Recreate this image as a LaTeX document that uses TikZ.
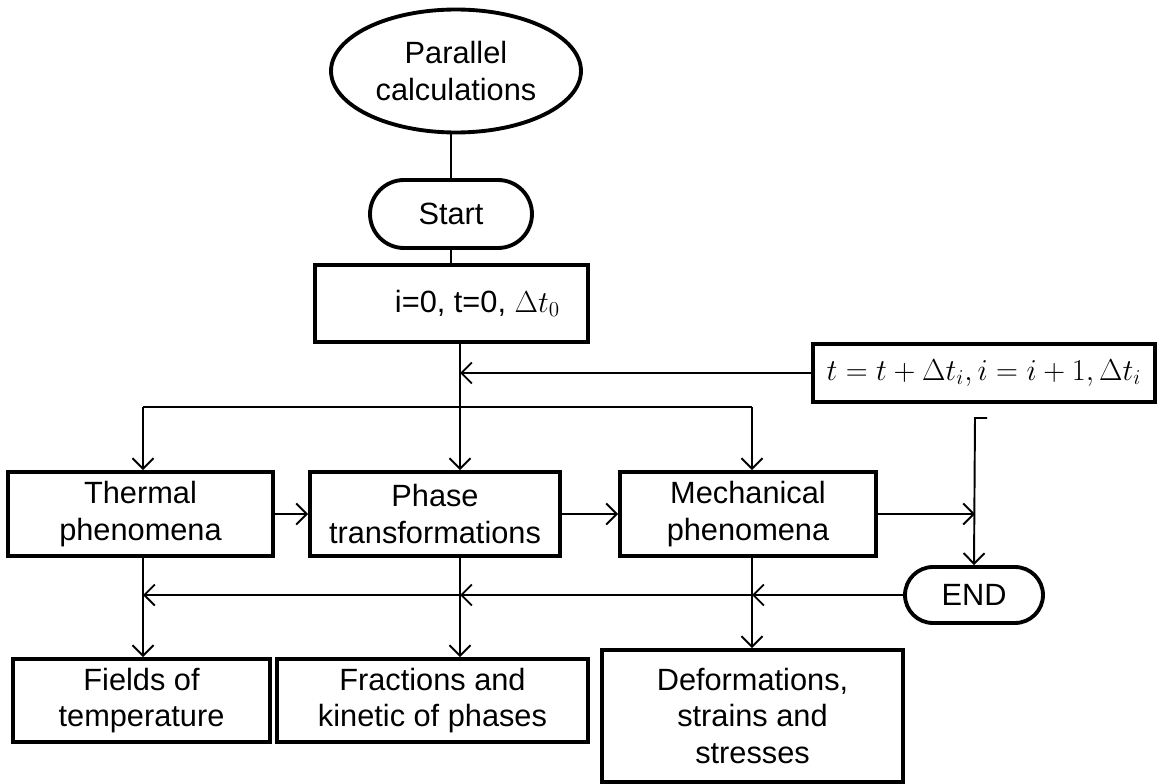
\documentclass[tikz,border=0pt]{standalone}
\usepackage{fontspec}
\setmainfont{Liberation Sans}
\usetikzlibrary{shapes.geometric,shapes.misc,arrows.meta}

\tikzset{
	box/.style={draw, line width=2.2pt, align=center, inner sep=0pt, font=\fontsize{17.5}{21}\selectfont},
	term/.style={box, rounded rectangle},
	flow/.style={line width=1.1pt},
	flowarr/.style={flow, -{Straight Barb[length=6pt,width=12pt,line width=1.1pt]}}
}

\begin{document}
\begin{tikzpicture}[x=0.02cm, y=-0.02cm]
	\useasboundingbox (0,0) rectangle (1157,784);

	\node[box, ellipse, minimum width=5.0cm, minimum height=2.46cm] (par) at (456,71) {Parallel\\calculations};
	\node[term, minimum width=3.24cm, minimum height=1.36cm] (start) at (451,214) {Start};
	\node[box, minimum width=5.46cm, minimum height=1.54cm] (init) at (451.5,303.5) {\hspace*{1.04cm}i=0, t=0, $\Delta t_0$};
	\node[box, minimum width=6.84cm, minimum height=1.16cm, font=\fontsize{18.5}{22}\selectfont] (feed) at (984,373) {$t=t+\Delta t_i, i=i+1, \Delta t_i$};

	\node[box, minimum width=5.30cm, minimum height=1.68cm] (therm) at (140.5,514) {Thermal\\phenomena};
	\node[box, minimum width=5.00cm, minimum height=1.68cm] (phase) at (435,514) {Phase\\transformations};
	\node[box, minimum width=5.12cm, minimum height=1.68cm] (mech) at (748,514) {Mechanical\\phenomena};
	\node[term, minimum width=2.76cm, minimum height=1.12cm] (end) at (974,595) {END};

	\node[box, minimum width=5.14cm, minimum height=1.66cm] (fields) at (141.5,700.5) {Fields of\\temperature};
	\node[box, minimum width=6.22cm, minimum height=1.66cm] (fract) at (432.5,700.5) {Fractions and\\kinetic of phases};
	\node[box, minimum width=6.02cm, minimum height=2.64cm] (deform) at (752.5,716) {Deformations,\\strains and\\stresses};

	\coordinate (loop) at (460,373);
	\coordinate (split) at (460,407);
	\coordinate (bl) at (143,407);
	\coordinate (br) at (752,407);
	\coordinate (rtop) at (975,418);
	\coordinate (rtick) at (987,418);

	\draw[flow] (start.north |- par.south) -- (start.north);
	\draw[flow] (start.south) -- (start.south |- init.north);
	\draw[flow] (init.south -| loop) -- (split);
	\draw[flowarr] (feed.west) -- (loop);
	\draw[flow] (bl) -- (br);
	\draw[flowarr] (bl) -- (bl |- therm.north);
	\draw[flowarr] (split) -- (split |- phase.north);
	\draw[flowarr] (br) -- (br |- mech.north);

	\draw[flowarr] (therm.east) -- (phase.west);
	\draw[flowarr] (phase.east) -- (mech.west);
	\draw[flowarr] (mech.east) -- (mech.east -| rtop);
	\draw[flowarr] (rtick) -- (rtop) -- (end.north);

	\draw[flowarr] (end.west) -- (end.west -| br);
	\draw[flowarr] (end.west -| br) -- (end.west -| split);
	\draw[flowarr] (end.west -| split) -- (end.west -| bl);

	\draw[flowarr] (therm.south -| bl) -- (fields.north -| bl);
	\draw[flowarr] (phase.south -| split) -- (fract.north -| split);
	\draw[flowarr] (mech.south -| br) -- (deform.north -| br);
\end{tikzpicture}
\end{document}
